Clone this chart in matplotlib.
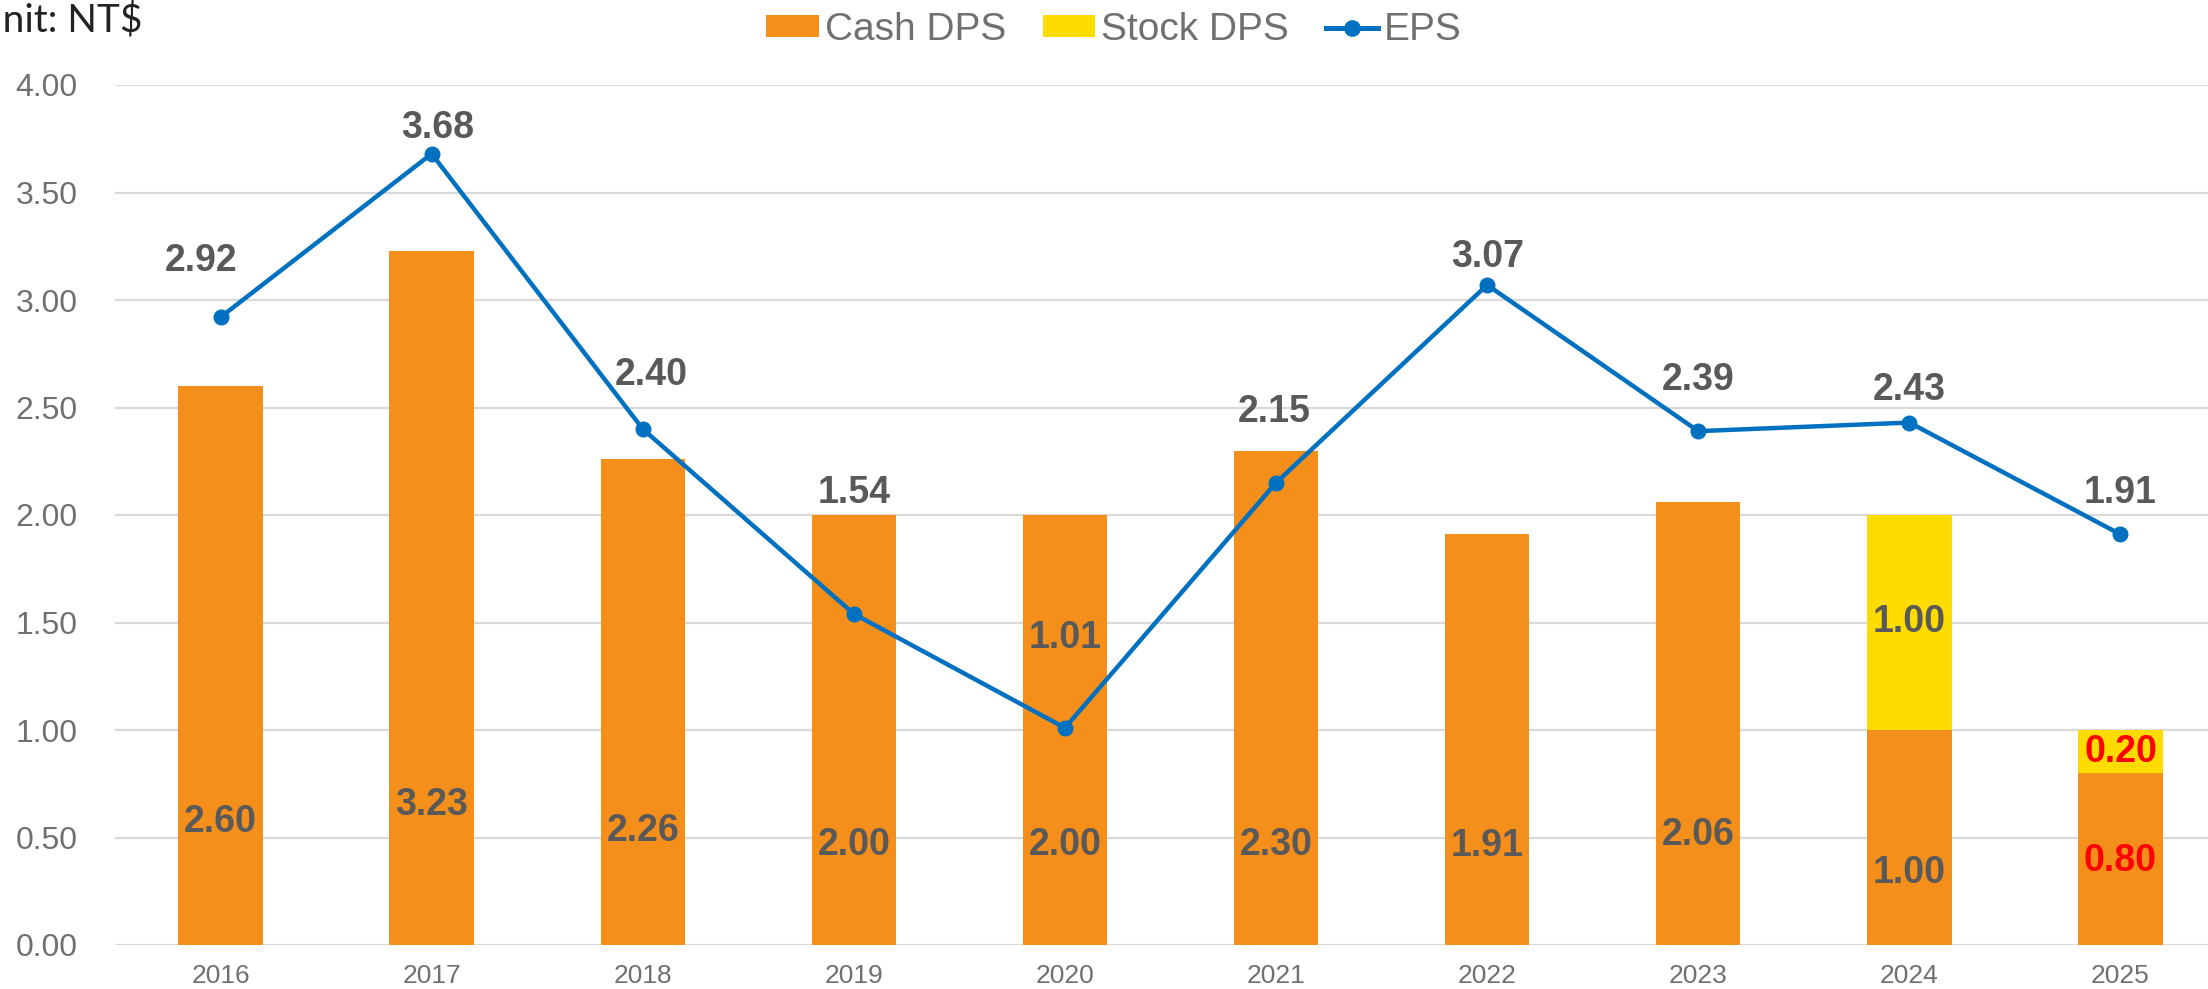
import matplotlib
matplotlib.use("Agg")
import matplotlib.pyplot as plt
from matplotlib.lines import Line2D
from matplotlib.patches import Patch
import numpy as np

years = ["2016", "2017", "2018", "2019", "2020", "2021", "2022", "2023", "2024", "2025"]
cash_dps = [2.60, 3.23, 2.26, 2.00, 2.00, 2.30, 1.91, 2.06, 1.00, 0.80]
stock_dps = [0, 0, 0, 0, 0, 0, 0, 0, 1.00, 0.20]
eps = [2.92, 3.68, 2.40, 1.54, 1.01, 2.15, 3.07, 2.39, 2.43, 1.91]
yticks = [0.00, 0.50, 1.00, 1.50, 2.00, 2.50, 3.00, 3.50, 4.00]

# label placement (layout only)
cash_label_y = [0.57, 0.65, 0.53, 0.465, 0.465, 0.465, 0.46, 0.51, 0.335, 0.39]
eps_label_y = [3.18, 3.80, 2.65, 2.10, 1.43, 2.48, 3.20, 2.63, 2.58, 2.10]
eps_label_dx = [-0.09, 0.03, 0.04, 0, 0, -0.01, 0, 0, 0, 0]

ORANGE = "#F58F1B"
YELLOW = "#FFDC00"
BLUE = "#0070C0"
LABEL = "#595959"
TICK = "#707070"
RED = "#FF0000"

plt.rcParams['font.family'] = ['Liberation Sans', 'DejaVu Sans']

W, H = 2208, 989
fig = plt.figure(figsize=(W / 100, H / 100), dpi=100)
left, right, bottom, top = 115, 2226, 945, 85
ax = fig.add_axes([left / W, 1 - bottom / H, (right - left) / W, (bottom - top) / H])

x = np.arange(len(years))
bw = 0.40
ax.bar(x, cash_dps, bw, color=ORANGE, zorder=2)
ax.bar(x, stock_dps, bw, bottom=cash_dps, color=YELLOW, zorder=2)
ax.plot(x, eps, color=BLUE, lw=3.2, marker='o', markersize=10.5, zorder=3)

ax.set_xlim(-0.5, len(years) - 0.5)
ax.set_ylim(0, 4.0)
ax.set_yticks(yticks)
ax.set_yticklabels([f"{v:.2f}" for v in yticks], fontsize=23, color=TICK)
ax.set_xticks(x)
ax.set_xticklabels(years, fontsize=19, color=TICK)
ax.tick_params(axis='y', length=0, pad=27)
ax.tick_params(axis='x', length=0, pad=14)
ax.yaxis.grid(True, color="#D9D9D9", lw=1.6, zorder=0)
ax.set_axisbelow(True)
for s in ax.spines.values():
    s.set_visible(False)

last = len(years) - 1
for i in range(len(years)):
    c = RED if i == last else LABEL
    ax.text(x[i], cash_label_y[i], f"{cash_dps[i]:.2f}", ha='center', va='center',
            fontsize=27, fontweight='bold', color=c, zorder=4)
    if stock_dps[i] > 0:
        ax.text(x[i], cash_dps[i] + stock_dps[i] / 2, f"{stock_dps[i]:.2f}", ha='center',
                va='center', fontsize=27, fontweight='bold', color=c, zorder=4)
    ax.text(x[i] + eps_label_dx[i], eps_label_y[i], f"{eps[i]:.2f}", ha='center', va='center',
            fontsize=27, fontweight='bold', color=LABEL, zorder=4)

handles = [Patch(facecolor=ORANGE, label="Cash DPS"),
           Patch(facecolor=YELLOW, label="Stock DPS"),
           Line2D([0], [0], color=BLUE, lw=3.6, marker='o', markersize=11, label="EPS")]
leg = fig.legend(handles=handles, loc='center', bbox_to_anchor=(1114 / W, 1 - 30 / H),
                 ncol=3, frameon=False, handlelength=1.35, handleheight=0.5,
                 handletextpad=0.15, columnspacing=0.95,
                 prop={'family': ['Liberation Sans'], 'size': 28})
for t in leg.get_texts():
    t.set_color(TICK)

fig.text(143 / W, 1 - 31 / H, "Unit: NT$", ha='right', va='baseline', fontsize=28,
         color="#222222", family=['Lato', 'DejaVu Sans'])

fig.savefig("out.png", dpi=100)
